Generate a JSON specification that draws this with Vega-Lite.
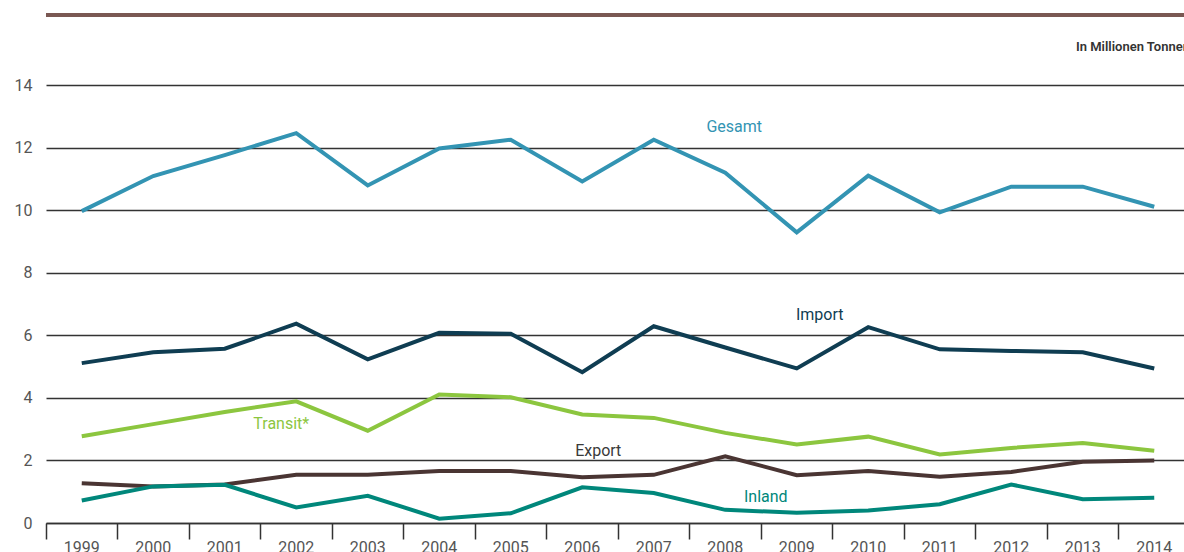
{
  "$schema": "https://vega.github.io/schema/vega-lite/v6.json",
  "width": 1144,
  "height": 438,
  "autosize": {"type": "none"},
  "padding": {"left": 46, "top": 85, "right": 0, "bottom": 29},
  "background": "white",
  "config": {"view": {"stroke": null}, "font": "Roboto"},
  "datasets": {
    "series": [
      {"year": "1999", "series": "Gesamt", "value": 9.97},
      {"year": "2000", "series": "Gesamt", "value": 11.09},
      {"year": "2001", "series": "Gesamt", "value": 11.76},
      {"year": "2002", "series": "Gesamt", "value": 12.46},
      {"year": "2003", "series": "Gesamt", "value": 10.79},
      {"year": "2004", "series": "Gesamt", "value": 11.97},
      {"year": "2005", "series": "Gesamt", "value": 12.25},
      {"year": "2006", "series": "Gesamt", "value": 10.92},
      {"year": "2007", "series": "Gesamt", "value": 12.25},
      {"year": "2008", "series": "Gesamt", "value": 11.2},
      {"year": "2009", "series": "Gesamt", "value": 9.29},
      {"year": "2010", "series": "Gesamt", "value": 11.1},
      {"year": "2011", "series": "Gesamt", "value": 9.93},
      {"year": "2012", "series": "Gesamt", "value": 10.75},
      {"year": "2013", "series": "Gesamt", "value": 10.75},
      {"year": "2014", "series": "Gesamt", "value": 10.11},
      {"year": "1999", "series": "Import", "value": 5.11},
      {"year": "2000", "series": "Import", "value": 5.46},
      {"year": "2001", "series": "Import", "value": 5.57},
      {"year": "2002", "series": "Import", "value": 6.37},
      {"year": "2003", "series": "Import", "value": 5.23},
      {"year": "2004", "series": "Import", "value": 6.08},
      {"year": "2005", "series": "Import", "value": 6.05},
      {"year": "2006", "series": "Import", "value": 4.82},
      {"year": "2007", "series": "Import", "value": 6.29},
      {"year": "2008", "series": "Import", "value": 5.61},
      {"year": "2009", "series": "Import", "value": 4.94},
      {"year": "2010", "series": "Import", "value": 6.26},
      {"year": "2011", "series": "Import", "value": 5.55},
      {"year": "2012", "series": "Import", "value": 5.5},
      {"year": "2013", "series": "Import", "value": 5.46},
      {"year": "2014", "series": "Import", "value": 4.94},
      {"year": "1999", "series": "Transit*", "value": 2.77},
      {"year": "2000", "series": "Transit*", "value": 3.16},
      {"year": "2001", "series": "Transit*", "value": 3.55},
      {"year": "2002", "series": "Transit*", "value": 3.89},
      {"year": "2003", "series": "Transit*", "value": 2.95},
      {"year": "2004", "series": "Transit*", "value": 4.11},
      {"year": "2005", "series": "Transit*", "value": 4.02},
      {"year": "2006", "series": "Transit*", "value": 3.47},
      {"year": "2007", "series": "Transit*", "value": 3.36},
      {"year": "2008", "series": "Transit*", "value": 2.88},
      {"year": "2009", "series": "Transit*", "value": 2.51},
      {"year": "2010", "series": "Transit*", "value": 2.76},
      {"year": "2011", "series": "Transit*", "value": 2.19},
      {"year": "2012", "series": "Transit*", "value": 2.4},
      {"year": "2013", "series": "Transit*", "value": 2.56},
      {"year": "2014", "series": "Transit*", "value": 2.31},
      {"year": "1999", "series": "Export", "value": 1.27},
      {"year": "2000", "series": "Export", "value": 1.17},
      {"year": "2001", "series": "Export", "value": 1.23},
      {"year": "2002", "series": "Export", "value": 1.54},
      {"year": "2003", "series": "Export", "value": 1.54},
      {"year": "2004", "series": "Export", "value": 1.66},
      {"year": "2005", "series": "Export", "value": 1.66},
      {"year": "2006", "series": "Export", "value": 1.46},
      {"year": "2007", "series": "Export", "value": 1.54},
      {"year": "2008", "series": "Export", "value": 2.13},
      {"year": "2009", "series": "Export", "value": 1.53},
      {"year": "2010", "series": "Export", "value": 1.66},
      {"year": "2011", "series": "Export", "value": 1.48},
      {"year": "2012", "series": "Export", "value": 1.63},
      {"year": "2013", "series": "Export", "value": 1.96},
      {"year": "2014", "series": "Export", "value": 2.0},
      {"year": "1999", "series": "Inland", "value": 0.72},
      {"year": "2000", "series": "Inland", "value": 1.17},
      {"year": "2001", "series": "Inland", "value": 1.22},
      {"year": "2002", "series": "Inland", "value": 0.5},
      {"year": "2003", "series": "Inland", "value": 0.87},
      {"year": "2004", "series": "Inland", "value": 0.14},
      {"year": "2005", "series": "Inland", "value": 0.31},
      {"year": "2006", "series": "Inland", "value": 1.14},
      {"year": "2007", "series": "Inland", "value": 0.96},
      {"year": "2008", "series": "Inland", "value": 0.42},
      {"year": "2009", "series": "Inland", "value": 0.33},
      {"year": "2010", "series": "Inland", "value": 0.4},
      {"year": "2011", "series": "Inland", "value": 0.6},
      {"year": "2012", "series": "Inland", "value": 1.23},
      {"year": "2013", "series": "Inland", "value": 0.76},
      {"year": "2014", "series": "Inland", "value": 0.81}
    ],
    "labels": [
      {"year": "2008", "series": "Gesamt", "value": 12.65},
      {"year": "2009", "series": "Import", "value": 6.65},
      {"year": "2002", "series": "Transit*", "value": 3.16},
      {"year": "2006", "series": "Export", "value": 2.3},
      {"year": "2009", "series": "Inland", "value": 0.83}
    ],
    "top": [{"value": 16.24}],
    "unit": [{"year": "2014", "value": 15.2, "text": "In Millionen Tonnen"}]
  },
  "encoding": {
    "x": {
      "field": "year", "type": "ordinal", "bandPosition": 0.5,
      "scale": {"type": "band", "paddingInner": 0, "paddingOuter": 0},
      "axis": {
        "title": null, "bandPosition": 0, "labelOffset": 0,
        "domain": true, "domainColor": "#333333", "domainWidth": 1.5,
        "ticks": true, "tickColor": "#333333", "tickWidth": 1.5, "tickSize": 16,
        "labelPadding": 0, "labelFontSize": 16, "labelColor": "#555555", "labelFont": "Roboto",
        "labelBaseline": "top", "labelAngle": 0, "grid": false
      }
    },
    "y": {
      "field": "value", "type": "quantitative",
      "scale": {"domain": [0, 14], "nice": false, "zero": true},
      "axis": {
        "title": null, "values": [0, 2, 4, 6, 8, 10, 12, 14],
        "domain": false, "ticks": false, "grid": true, "gridColor": "#333333", "gridWidth": 1.5,
        "labelPadding": 14, "labelFontSize": 16, "labelColor": "#555555", "labelFont": "Roboto"
      }
    },
    "color": {
      "field": "series", "type": "nominal", "legend": null,
      "scale": {
        "domain": ["Gesamt", "Import", "Transit*", "Export", "Inland"],
        "range": ["#3394b3", "#0f3d52", "#8cc63f", "#4a3533", "#00877b"]
      }
    }
  },
  "layer": [
    {
      "data": {"name": "top"},
      "mark": {"type": "rule", "color": "#7a5853", "strokeWidth": 4},
      "encoding": {"x": null, "color": null, "y": {"field": "value", "type": "quantitative"}}
    },
    {
      "data": {"name": "unit"},
      "mark": {"type": "text", "fontSize": 13, "font": "Roboto", "fontWeight": 600, "color": "#333333", "align": "right", "baseline": "middle"},
      "encoding": {
        "x": {"field": "year", "type": "ordinal", "bandPosition": 1},
        "color": null,
        "text": {"field": "text"}
      }
    },
    {
      "data": {"name": "series"},
      "mark": {"type": "line", "strokeWidth": 4, "strokeJoin": "miter", "strokeCap": "butt"},
      "encoding": {"detail": {"field": "series"}}
    },
    {
      "data": {"name": "labels"},
      "transform": [{"filter": "datum.series === 'Gesamt'"}],
      "mark": {"type": "text", "fontSize": 16, "font": "Roboto", "dx": 9},
      "encoding": {"text": {"field": "series"}}
    },
    {
      "data": {"name": "labels"},
      "transform": [{"filter": "datum.series === 'Import'"}],
      "mark": {"type": "text", "fontSize": 16, "font": "Roboto", "dx": 23},
      "encoding": {"text": {"field": "series"}}
    },
    {
      "data": {"name": "labels"},
      "transform": [{"filter": "datum.series === 'Transit*'"}],
      "mark": {"type": "text", "fontSize": 16, "font": "Roboto", "dx": -15},
      "encoding": {"text": {"field": "series"}}
    },
    {
      "data": {"name": "labels"},
      "transform": [{"filter": "datum.series === 'Export'"}],
      "mark": {"type": "text", "fontSize": 16, "font": "Roboto", "dx": 16, "color": "#3a3a3a"},
      "encoding": {"color": null, "text": {"field": "series"}}
    },
    {
      "data": {"name": "labels"},
      "transform": [{"filter": "datum.series === 'Inland'"}],
      "mark": {"type": "text", "fontSize": 16, "font": "Roboto", "dx": -31},
      "encoding": {"text": {"field": "series"}}
    }
  ]
}
